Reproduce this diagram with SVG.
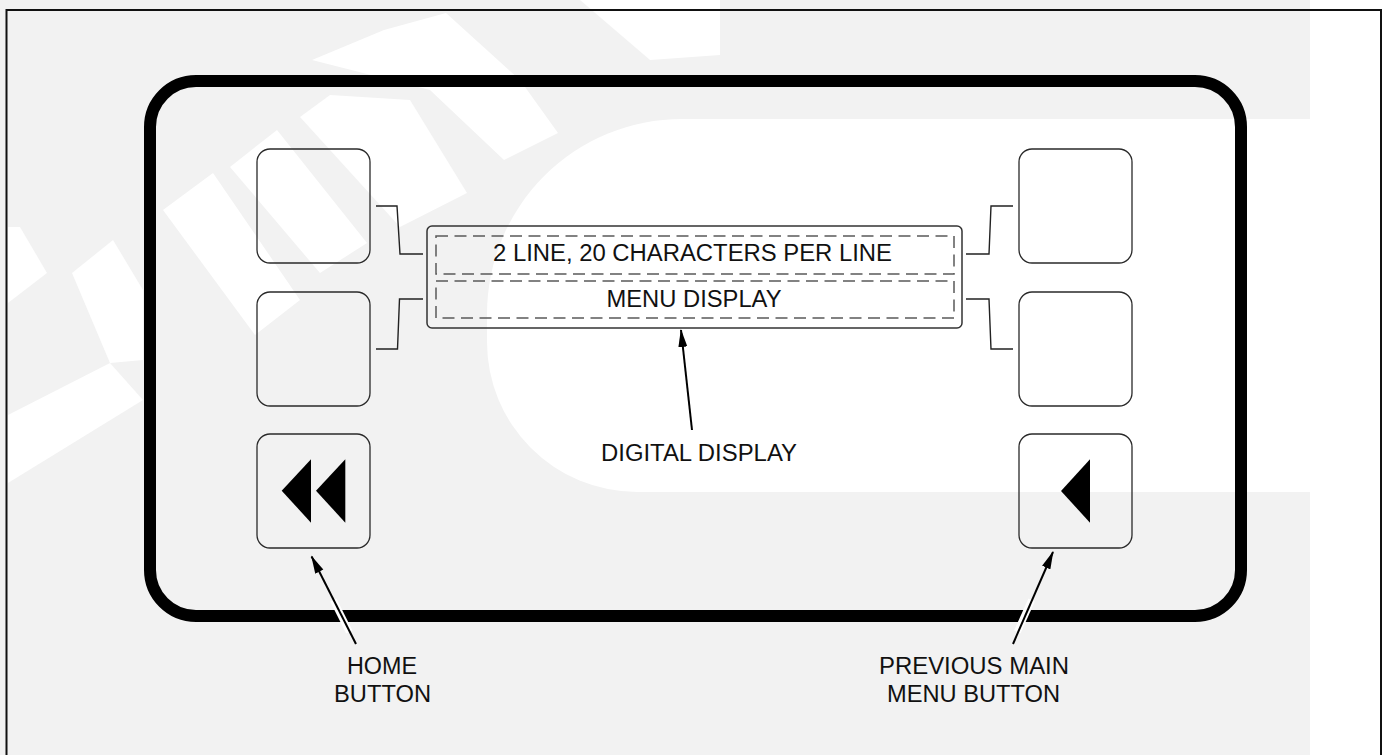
<svg xmlns="http://www.w3.org/2000/svg" width="1386" height="755" viewBox="0 0 1386 755">
<style>
.btn{fill:none;stroke:#2a2a2a;stroke-width:1.3}
.conn{fill:none;stroke:#222;stroke-width:1.4}
.dash{fill:none;stroke:#5a5a5a;stroke-width:1.5;stroke-dasharray:12 6.5}
.lbl{font-family:"Liberation Sans",Arial,sans-serif;font-size:23px;fill:#111;text-anchor:middle}
.icon{fill:#000}
.wm{fill:#ffffff}
.lead{stroke:#000;stroke-width:2;fill:none}
.halo{stroke:#fff;stroke-width:7;fill:none}
</style>
<defs>
<marker id="ah" markerWidth="18" markerHeight="10" refX="17" refY="5" orient="auto" markerUnits="userSpaceOnUse">
<path d="M0,0.5 L18,5 L0,9.5 Z" fill="#000"/>
</marker>
</defs>
<g id="background">
<rect x="0" y="0" width="1386" height="755" fill="#fff"/>
<rect x="0" y="0" width="1310" height="755" fill="#f2f2f2"/>
<path class="wm" d="M1310,119 L682,119 A195,195 0 0 0 487,314 L487,342 A150,150 0 0 0 637,492 L1310,492 Z"/>
<polygon class="wm" points="8,415 110,363 143,400 8,483"/>
<polygon class="wm" points="8,227 20,227 47,273 8,303"/>
<polygon class="wm" points="72,273 113,240 143,290 143,360 110,363"/>
<polygon class="wm" points="163,210 213,173 300,300 255,335"/>
<polygon class="wm" points="230,167 277,130 367,243 320,273"/>
<polygon class="wm" points="300,117 330,95 410,100 467,193 400,227"/>
<polygon class="wm" points="312,60 384,30 446,13 520,80 558,133 504,160 430,90"/>
<polygon class="wm" points="580,0 720,0 720,55 650,60"/>
</g>
<rect id="frame" x="6.5" y="10" width="1374.5" height="770" fill="none" stroke="#111" stroke-width="2"/>
<g id="panel">
<rect x="150" y="81" width="1091" height="535" rx="46" ry="46" fill="none" stroke="#000" stroke-width="12"/>
</g>
<g id="btn-left-1"><rect class="btn" x="257" y="149" width="113" height="114" rx="13"/></g>
<g id="btn-left-2"><rect class="btn" x="257" y="292" width="113" height="114" rx="13"/></g>
<g id="btn-home"><rect class="btn" x="257" y="434" width="113" height="114" rx="13"/>
<polygon class="icon" points="281.7,490.7 311,459.3 311,522.7"/>
<polygon class="icon" points="316,490.7 345.3,459.3 345.3,522.7"/>
</g>
<g id="btn-right-1"><rect class="btn" x="1019" y="149" width="113" height="114" rx="13"/></g>
<g id="btn-right-2"><rect class="btn" x="1019" y="292" width="113" height="114" rx="13"/></g>
<g id="btn-previous"><rect class="btn" x="1019" y="434" width="113" height="114" rx="13"/>
<polygon class="icon" points="1061,491 1090,459.3 1090,522.7"/>
</g>
<g id="display">
<rect x="427" y="226" width="535" height="102" rx="5" fill="none" stroke="#333" stroke-width="1.5"/>
<rect class="dash" x="436" y="236" width="518" height="38"/>
<rect class="dash" x="436" y="281" width="518" height="37"/>
<text class="lbl" x="692.5" y="261" textLength="399" lengthAdjust="spacingAndGlyphs">2 LINE, 20 CHARACTERS PER LINE</text>
<text class="lbl" x="694" y="306.5" textLength="175" lengthAdjust="spacingAndGlyphs">MENU DISPLAY</text>
</g>
<g id="connectors">
<path class="conn" d="M376,206 H397 L400,254 H423"/>
<path class="conn" d="M423,299 H399.5 L397.5,349 H376"/>
<path class="conn" d="M966,254 H989 L991,206 H1013"/>
<path class="conn" d="M966,299 H989 L991,349 H1013"/>
<line class="lead" x1="692" y1="430" x2="681" y2="330" marker-end="url(#ah)"/>
<line class="halo" x1="333.3" y1="600" x2="349.3" y2="632"/>
<line class="lead" x1="356" y1="644" x2="311.6" y2="556.5" marker-end="url(#ah)"/>
<line class="halo" x1="1031.6" y1="600" x2="1017.3" y2="632"/>
<line class="lead" x1="1013" y1="644" x2="1053" y2="552" marker-end="url(#ah)"/>
</g>
<g id="labels">
<text class="lbl" x="699" y="461" textLength="196" lengthAdjust="spacingAndGlyphs">DIGITAL DISPLAY</text>
<text class="lbl" x="382" y="674" textLength="70" lengthAdjust="spacingAndGlyphs">HOME</text>
<text class="lbl" x="382.5" y="701.5" textLength="97" lengthAdjust="spacingAndGlyphs">BUTTON</text>
<text class="lbl" x="974" y="674" textLength="190" lengthAdjust="spacingAndGlyphs">PREVIOUS MAIN</text>
<text class="lbl" x="973.5" y="701.5" textLength="173" lengthAdjust="spacingAndGlyphs">MENU BUTTON</text>
</g>
</svg>
